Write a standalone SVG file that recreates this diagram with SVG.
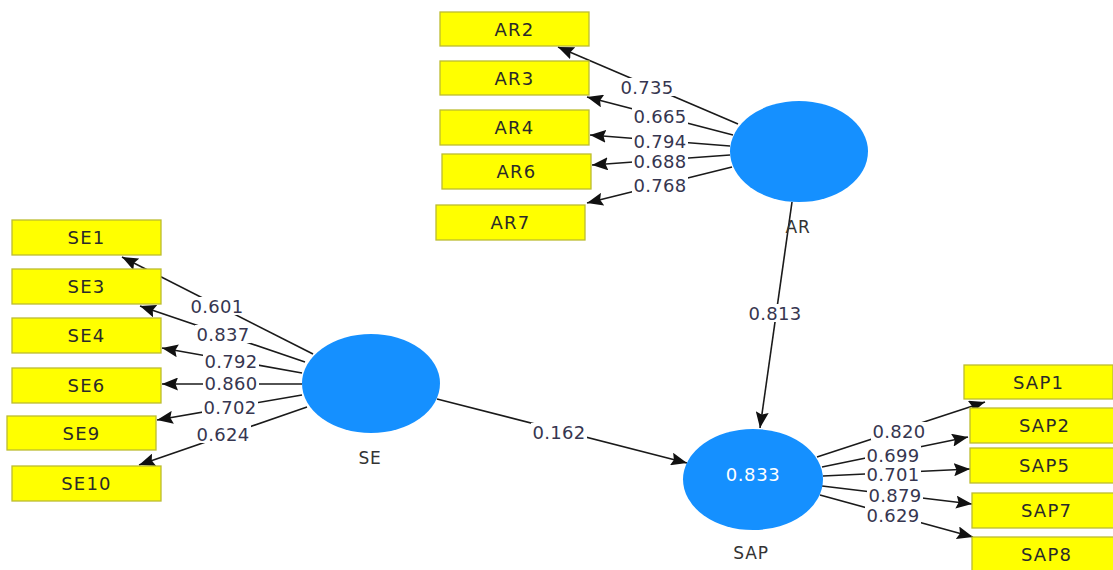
<svg xmlns="http://www.w3.org/2000/svg" width="1113" height="570" viewBox="0 0 1113 570">
<style>
.box{fill:#ffff00;stroke:#bcbc30;stroke-width:1.3}
.bt{font-family:"DejaVu Sans",sans-serif;font-size:18px;letter-spacing:1.2px;fill:#2a2a2a;text-anchor:middle;dominant-baseline:central}
.lv{fill:#1590ff}
.lt{font-family:"DejaVu Sans",sans-serif;font-size:17px;letter-spacing:0.8px;fill:#333;text-anchor:middle;dominant-baseline:central}
.in{font-family:"DejaVu Sans",sans-serif;font-size:18px;letter-spacing:0.6px;fill:#ffffff;text-anchor:middle;dominant-baseline:central}
.ln{stroke:#1a1a1a;stroke-width:1.6;fill:none;marker-end:url(#arr)}
.bg{fill:#ffffff}
.nt{font-family:"DejaVu Sans",sans-serif;font-size:18px;letter-spacing:0.3px;fill:#363650;text-anchor:middle;dominant-baseline:central}
</style>
<defs>
<marker id="arr" viewBox="0 0 16 13" refX="16" refY="6.5" markerWidth="16" markerHeight="13" orient="auto" markerUnits="userSpaceOnUse">
<path d="M0,0 L16,6.5 L0,13 L2.5,6.5 z" fill="#111"/>
</marker>
</defs>
<rect width="1113" height="570" fill="#ffffff"/>
<g id="connectors">
<line class="ln" x1="738" y1="124" x2="558" y2="47"/>
<line class="ln" x1="733" y1="135" x2="587" y2="97"/>
<line class="ln" x1="730" y1="146" x2="590" y2="135"/>
<line class="ln" x1="730" y1="155" x2="592" y2="165"/>
<line class="ln" x1="732" y1="167" x2="587" y2="203"/>
<line class="ln" x1="313" y1="354" x2="122" y2="257"/>
<line class="ln" x1="305" y1="362" x2="140" y2="306"/>
<line class="ln" x1="302" y1="373" x2="162" y2="348"/>
<line class="ln" x1="302" y1="384" x2="162" y2="384"/>
<line class="ln" x1="302" y1="395" x2="157" y2="420"/>
<line class="ln" x1="307" y1="407" x2="139" y2="465"/>
<line class="ln" x1="437" y1="399" x2="687" y2="463"/>
<line class="ln" x1="792" y1="202" x2="760" y2="428"/>
<line class="ln" x1="817" y1="457" x2="985" y2="402"/>
<line class="ln" x1="822" y1="467" x2="968" y2="437"/>
<line class="ln" x1="823" y1="476" x2="970" y2="469"/>
<line class="ln" x1="822" y1="486" x2="972" y2="504"/>
<line class="ln" x1="820" y1="495" x2="973" y2="537"/>
<g id="labels">
<rect class="bg" x="619" y="78" width="56" height="18"/><text class="nt" x="647" y="87">0.735</text>
<rect class="bg" x="632" y="107" width="56" height="18"/><text class="nt" x="660" y="116">0.665</text>
<rect class="bg" x="632" y="132" width="56" height="18"/><text class="nt" x="660" y="141">0.794</text>
<rect class="bg" x="632" y="152" width="56" height="18"/><text class="nt" x="660" y="161">0.688</text>
<rect class="bg" x="632" y="176" width="56" height="18"/><text class="nt" x="660" y="185">0.768</text>
<rect class="bg" x="189" y="297" width="56" height="18"/><text class="nt" x="217" y="306">0.601</text>
<rect class="bg" x="195" y="325" width="56" height="18"/><text class="nt" x="223" y="334">0.837</text>
<rect class="bg" x="203" y="352" width="56" height="18"/><text class="nt" x="231" y="361">0.792</text>
<rect class="bg" x="203" y="374" width="56" height="18"/><text class="nt" x="231" y="383">0.860</text>
<rect class="bg" x="202" y="398" width="56" height="18"/><text class="nt" x="230" y="407">0.702</text>
<rect class="bg" x="195" y="425" width="56" height="18"/><text class="nt" x="223" y="434">0.624</text>
<rect class="bg" x="531" y="423" width="56" height="18"/><text class="nt" x="559" y="432">0.162</text>
<rect class="bg" x="747" y="304" width="56" height="18"/><text class="nt" x="775" y="313">0.813</text>
<rect class="bg" x="871" y="422" width="56" height="18"/><text class="nt" x="899" y="431">0.820</text>
<rect class="bg" x="865" y="446" width="56" height="18"/><text class="nt" x="893" y="455">0.699</text>
<rect class="bg" x="865" y="465" width="56" height="18"/><text class="nt" x="893" y="474">0.701</text>
<rect class="bg" x="867" y="486" width="56" height="18"/><text class="nt" x="895" y="495">0.879</text>
<rect class="bg" x="865" y="506" width="56" height="18"/><text class="nt" x="893" y="515">0.629</text>
</g>
</g>
<g id="AR"><ellipse class="lv" cx="799" cy="151.5" rx="69" ry="50.5"/><text class="lt" x="798" y="227">AR</text></g>
<g id="SE"><ellipse class="lv" cx="371" cy="383.5" rx="69" ry="49.5"/><text class="lt" x="370" y="458">SE</text></g>
<g id="SAP"><ellipse class="lv" cx="753" cy="479.5" rx="70" ry="50.5"/><text class="in" x="753" y="474">0.833</text><text class="lt" x="751" y="553">SAP</text></g>
<g id="AR2"><rect class="box" x="440" y="12" width="149" height="34"/><text class="bt" x="514.5" y="29">AR2</text></g>
<g id="AR3"><rect class="box" x="440" y="61" width="149" height="34"/><text class="bt" x="514.5" y="78">AR3</text></g>
<g id="AR4"><rect class="box" x="440" y="110" width="149" height="35"/><text class="bt" x="514.5" y="127.5">AR4</text></g>
<g id="AR6"><rect class="box" x="442" y="154" width="149" height="35"/><text class="bt" x="516.5" y="171.5">AR6</text></g>
<g id="AR7"><rect class="box" x="436" y="205" width="149" height="35"/><text class="bt" x="510.5" y="222.5">AR7</text></g>
<g id="SE1"><rect class="box" x="12" y="220" width="149" height="35"/><text class="bt" x="86.5" y="237.5">SE1</text></g>
<g id="SE3"><rect class="box" x="12" y="269" width="149" height="35"/><text class="bt" x="86.5" y="286.5">SE3</text></g>
<g id="SE4"><rect class="box" x="12" y="318" width="149" height="35"/><text class="bt" x="86.5" y="335.5">SE4</text></g>
<g id="SE6"><rect class="box" x="12" y="368" width="149" height="35"/><text class="bt" x="86.5" y="385.5">SE6</text></g>
<g id="SE9"><rect class="box" x="7" y="416" width="149" height="34"/><text class="bt" x="81.5" y="433">SE9</text></g>
<g id="SE10"><rect class="box" x="12" y="466" width="149" height="35"/><text class="bt" x="86.5" y="483.5">SE10</text></g>
<g id="SAP1"><rect class="box" x="964" y="365" width="149" height="34"/><text class="bt" x="1038.5" y="382">SAP1</text></g>
<g id="SAP2"><rect class="box" x="970" y="408" width="149" height="35"/><text class="bt" x="1044.5" y="425.5">SAP2</text></g>
<g id="SAP5"><rect class="box" x="970" y="448" width="149" height="35"/><text class="bt" x="1044.5" y="465.5">SAP5</text></g>
<g id="SAP7"><rect class="box" x="972" y="493" width="149" height="35"/><text class="bt" x="1046.5" y="510.5">SAP7</text></g>
<g id="SAP8"><rect class="box" x="972" y="537" width="149" height="35"/><text class="bt" x="1046.5" y="554.5">SAP8</text></g>
</svg>
